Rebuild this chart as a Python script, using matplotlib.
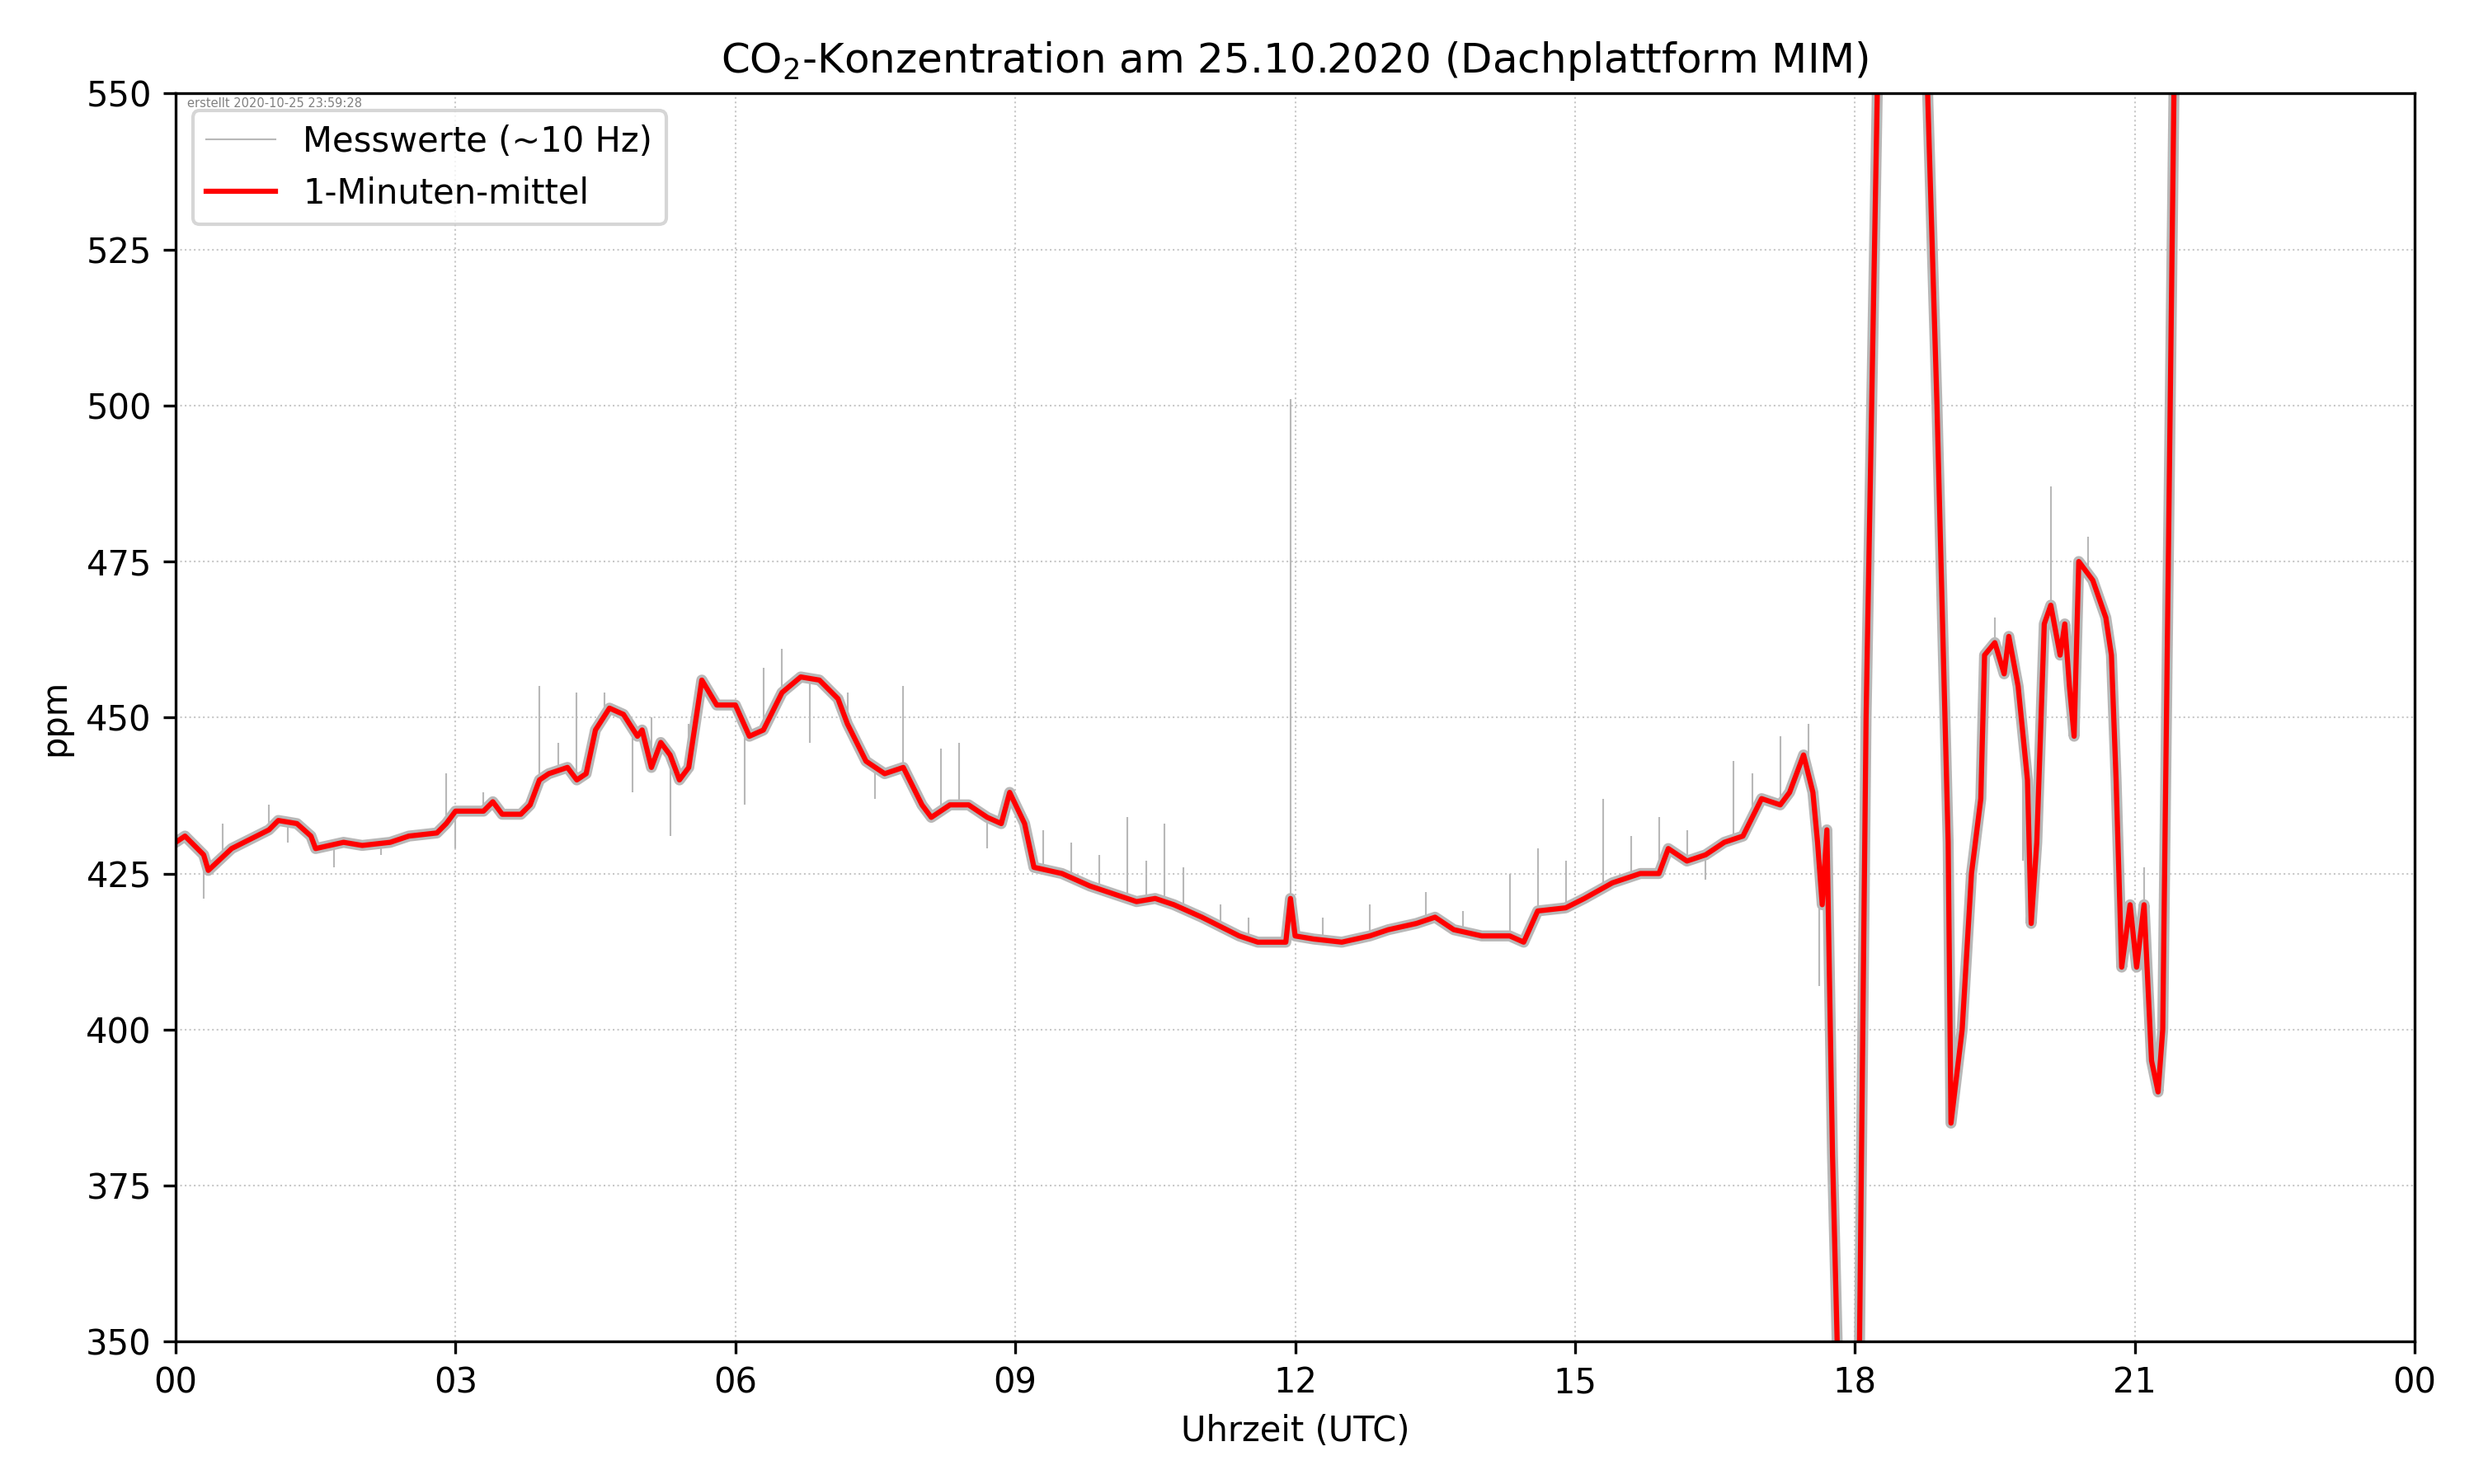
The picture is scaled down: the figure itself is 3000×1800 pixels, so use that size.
import matplotlib
matplotlib.use("Agg")
import matplotlib.pyplot as plt
import numpy as np

mean_hours = [0.0,0.1,0.3,0.35,0.6,0.8,1.0,1.1,1.3,1.45,1.5,1.8,2.0,2.3,2.5,2.8,2.9,3.0,3.3,3.4,3.5,3.7,3.8,3.9,4.0,4.2,4.3,4.4,4.5,4.65,4.8,4.95,5.0,5.1,5.2,5.3,5.4,5.5,5.64,5.8,6.0,6.15,6.3,6.5,6.7,6.9,7.1,7.2,7.4,7.6,7.8,8.0,8.1,8.3,8.5,8.7,8.85,8.94,9.1,9.2,9.5,9.8,10.0,10.3,10.5,10.7,11.0,11.2,11.4,11.6,11.9,11.95,12.0,12.2,12.5,12.8,13.0,13.3,13.5,13.7,14.0,14.3,14.45,14.6,14.9,15.1,15.4,15.7,15.9,16.0,16.2,16.4,16.6,16.8,17.0,17.2,17.3,17.45,17.55,17.6,17.65,17.7,17.76,17.81,17.9,18.0,18.05,18.12,18.24,18.3,18.6,18.78,18.88,19.0,19.03,19.15,19.25,19.35,19.39,19.5,19.6,19.65,19.75,19.85,19.89,19.95,20.03,20.1,20.2,20.25,20.3,20.35,20.4,20.55,20.69,20.75,20.8,20.86,20.95,21.02,21.1,21.18,21.25,21.3,21.42,21.5]
mean_ppm = [430,431,428,425.5,429,430.5,432,433.5,433,431,
            429,430,429.5,430,431,431.5,433,435,435,436.5,
            434.5,434.5,436,440,441,442,440,441,448,451.5,
            450.5,447,448,442,446,444,440,442,456,452,
            452,447,448,454,456.5,456,453,449,443,441,
            442,436,434,436,436,434,433,438,433,426,
            425,423,422,420.5,421,420,418,416.5,415,414,
            414,421,415,414.5,414,415,416,417,418,416,
            415,415,414,419,419.5,421,423.5,425,425,429,
            427,428,430,431,437,436,438,444,438,430,
            420,432,380,350,300,300,350,450,550,600,
            600,550,500,430,385,400,425,437,460,462,
            457,463,455,440,417,430,465,468,460,465,
            455,447,475,472,466,460,440,410,420,410,
            420,395,390,400,550,600]

# raw measurement excursions (hour, ppm)
spike_hours = [0.3,0.5,1.0,1.2,1.7,2.2,2.9,3.0,3.3,3.9,4.1,4.3,4.6,4.9,5.1,5.3,5.5,6.1,6.3,6.5,6.8,7.2,7.5,7.8,8.0,8.2,8.4,8.7,9.1,9.3,9.6,9.9,10.2,10.4,10.6,10.8,11.2,11.5,11.95,12.3,12.8,13.4,13.8,14.3,14.6,14.9,15.3,15.6,15.9,16.2,16.4,16.7,16.9,17.2,17.5,17.62,19.5,19.8,20.1,20.3,20.5,21.1]
spike_ppm  = [421,433,436,430,426,428,441,429,438,455,446,454,454,438,450,431,449,436,458,461,446,454,437,455,436,445,446,429,431,432,430,428,434,427,433,426,420,418,501,418,420,422,419,425,429,427,437,431,434,432,424,443,441,447,449,407,466,427,487,465,479,426]

fig, ax = plt.subplots(figsize=(10, 6), dpi=300)
fig.subplots_adjust(left=0.071, right=0.976, top=0.937, bottom=0.096)
raw_line, = ax.plot(mean_hours, mean_ppm, color="#b8b8b8", lw=3.2, label="Messwerte (~10 Hz)")
base = np.interp(spike_hours, mean_hours, mean_ppm)
ax.vlines(spike_hours, base, spike_ppm, color="#b8b8b8", lw=0.5)
ax.plot(mean_hours, mean_ppm, color="red", lw=1.5, label="1-Minuten-mittel")
ax.set_xlim(0, 24)
ax.set_ylim(350, 550)
ax.set_xticks(range(0, 25, 3))
ax.set_xticklabels(["00","03","06","09","12","15","18","21","00"])
ax.set_yticks(range(350, 551, 25))
ax.grid(True, ls=":", lw=0.5, color="#c8c8c8")
ax.set_xlabel("Uhrzeit (UTC)")
ax.set_ylabel("ppm")
ax.set_title("CO$_2$-Konzentration am 25.10.2020 (Dachplattform MIM)", fontsize=12)
leg = ax.legend(loc="upper left")
leg.get_lines()[0].set_linewidth(0.5)
ax.text(0.005, 0.997, "erstellt 2020-10-25 23:59:28", transform=ax.transAxes,
        fontsize=3.5, color="gray", va="top")
fig.savefig("out.png")
